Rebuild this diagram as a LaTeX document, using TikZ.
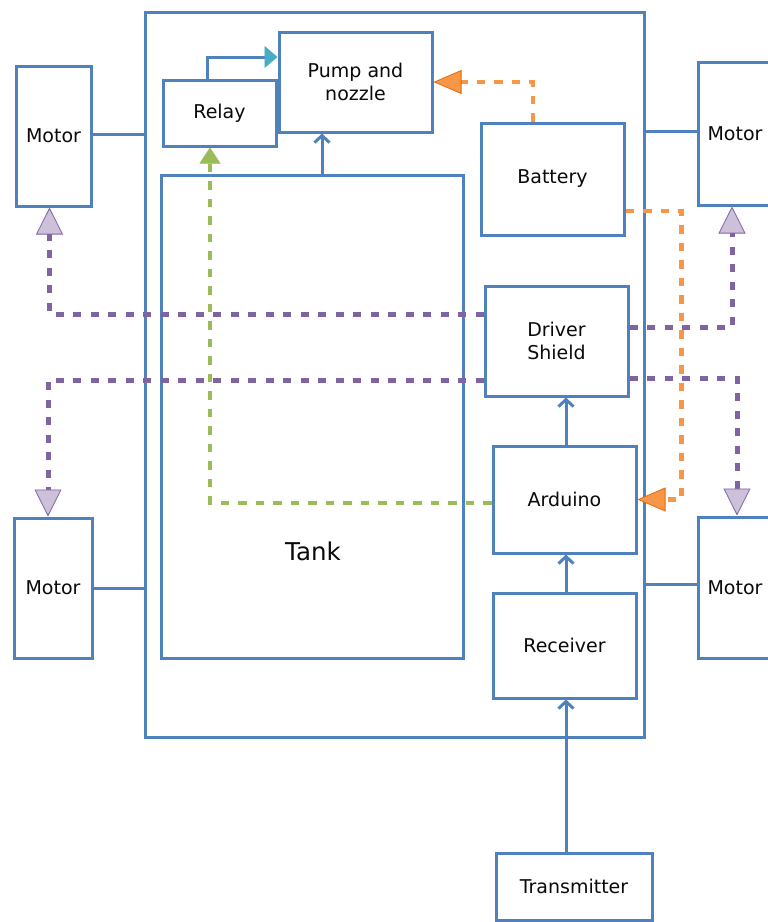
\documentclass[tikz,border=0pt]{standalone}
\usepackage{fontspec}
\setmainfont{DejaVu Sans}
\usetikzlibrary{arrows.meta,calc,shadows}
\definecolor{bblue}{HTML}{4F81BD}
\definecolor{tealc}{HTML}{4BACC6}
\definecolor{orangec}{HTML}{F79646}
\definecolor{orangedk}{HTML}{E46C0A}
\definecolor{greenc}{HTML}{9BBB59}
\definecolor{purplec}{HTML}{8064A2}
\definecolor{lavender}{HTML}{CCC0DA}
\definecolor{txt}{HTML}{0A0A0A}
\begin{document}
\begin{tikzpicture}[x=1pt,y=-1pt,
  framebox/.style={draw=bblue, line width=3pt, inner sep=0pt},
  box/.style={draw=bblue, line width=3pt, fill=white, inner sep=0pt, text=txt,
    font=\fontsize{19}{23.5}\selectfont, align=center,
    drop shadow={shadow xshift=1.5pt, shadow yshift=-1.5pt, fill=black, opacity=0.15}},
  conn/.style={draw=bblue, line width=3pt},
  openarrow/.style={conn, -{Straight Barb[length=7pt,width=15pt,line width=3pt]}},
  tealarrow/.style={conn, -{Triangle[length=13pt,width=22pt,fill=tealc,color=tealc,line width=0.5pt]}},
  orangedash/.style={draw=orangec, line width=4.5pt, dash pattern=on 8.5pt off 9pt,
    -{Triangle[length=28pt,width=24pt,fill=orangec,color=orangedk,line width=0.8pt]}},
  greendash/.style={draw=greenc, line width=4.5pt, dash pattern=on 8.5pt off 9pt,
    -{Triangle[length=16pt,width=21pt,fill=greenc,color=greenc,line width=0.5pt]}},
  purpledash/.style={draw=purplec, line width=5pt, dash pattern=on 8pt off 9.5pt,
    -{Triangle[length=27pt,width=27pt,fill=lavender,color=purplec,line width=0.8pt]}}
]
\useasboundingbox (0,0) rectangle (768,922);

% frame and large boxes
\node[framebox, minimum width=499pt, minimum height=725pt] (frame) at (394.5,374.5) {};
\node[box, minimum width=302pt, minimum height=483pt] (tank) at (312,416.5) {};
\node[text=txt, font=\fontsize{24.5}{29}\selectfont] (tanklbl) at (313,551) {Tank};

% motors
\node[box, minimum width=75pt, minimum height=140pt] (motorTL) at (53.5,136) {Motor};
\node[box, minimum width=78pt, minimum height=140pt] (motorBL) at (53,588) {Motor};
\node[box, minimum width=74pt, minimum height=143pt] (motorTR) at (735,133.5) {Motor};
\node[box, minimum width=74pt, minimum height=141pt] (motorBR) at (735,587.5) {Motor};

% inner boxes
\node[box, minimum width=153pt, minimum height=100pt] (pump) at (355.5,82) {Pump and\\nozzle};
\node[box, minimum width=113pt, minimum height=66pt] (relay) at (219.5,113) {Relay};
\node[box, minimum width=143pt, minimum height=112pt] (battery) at (552.5,179) {Battery};
\node[box, minimum width=143pt, minimum height=110pt] (shield) at (556.5,341) {Driver\\Shield};
\node[box, minimum width=143pt, minimum height=107pt] (arduino) at (564.5,499.5) {Arduino};
\node[box, minimum width=143pt, minimum height=105pt] (receiver) at (564.5,645.5) {Receiver};
\node[box, minimum width=156pt, minimum height=67pt] (transmitter) at (574,886.5) {Transmitter};

% motor to frame
\draw[conn] ($(motorTL.east)+(0,-2)$) coordinate (a1) -- (a1 -| frame.west);
\draw[conn] (motorBL.east) -- (motorBL.east -| frame.west);
\draw[conn] ($(motorTR.west)+(0,-2.5)$) coordinate (a2) -- (a2 -| frame.east);
\draw[conn] ($(motorBR.west)+(0,-3.5)$) coordinate (a3) -- (a3 -| frame.east);

% solid arrows
\draw[tealarrow] ($(relay.north)+(-12.5,0)$) |- ($(pump.west)+(0,-25)$);
\draw[openarrow] ($(tank.north)+(10,0)$) -- ($(pump.south)+(-33.5,0)$);
\draw[openarrow] ($(arduino.north)+(1.5,0)$) -- ($(shield.south)+(9.5,0)$);
\draw[openarrow] ($(receiver.north)+(1.5,0)$) -- ($(arduino.south)+(1.5,0)$);
\draw[openarrow] ($(transmitter.north)+(-8,0)$) -- ($(receiver.south)+(1.5,0)$);

% dashed connectors
\draw[purpledash] ($(shield.west)+(0,-27)$) -| ($(motorTL.south)+(-4,0)$);
\draw[purpledash] ($(shield.east)+(0,-14)$) -| ($(motorTR.south)+(-3,0)$);
\draw[purpledash] ($(shield.west)+(0,39)$) -| ($(motorBL.north)+(-5,0)$);
\draw[purpledash] ($(shield.east)+(0,37)$) -| ($(motorBR.north)+(2,0)$);
\draw[orangedash] ($(battery.north)+(-19.5,0)$) |- (pump.east);
\draw[orangedash] ($(battery.east)+(0,32)$) -| ($(arduino.east)+(44,0)$) -- (arduino.east);
\draw[greendash] ($(arduino.west)+(0,3.5)$) -| ($(relay.south)+(-9.5,0)$);
\end{tikzpicture}
\end{document}
